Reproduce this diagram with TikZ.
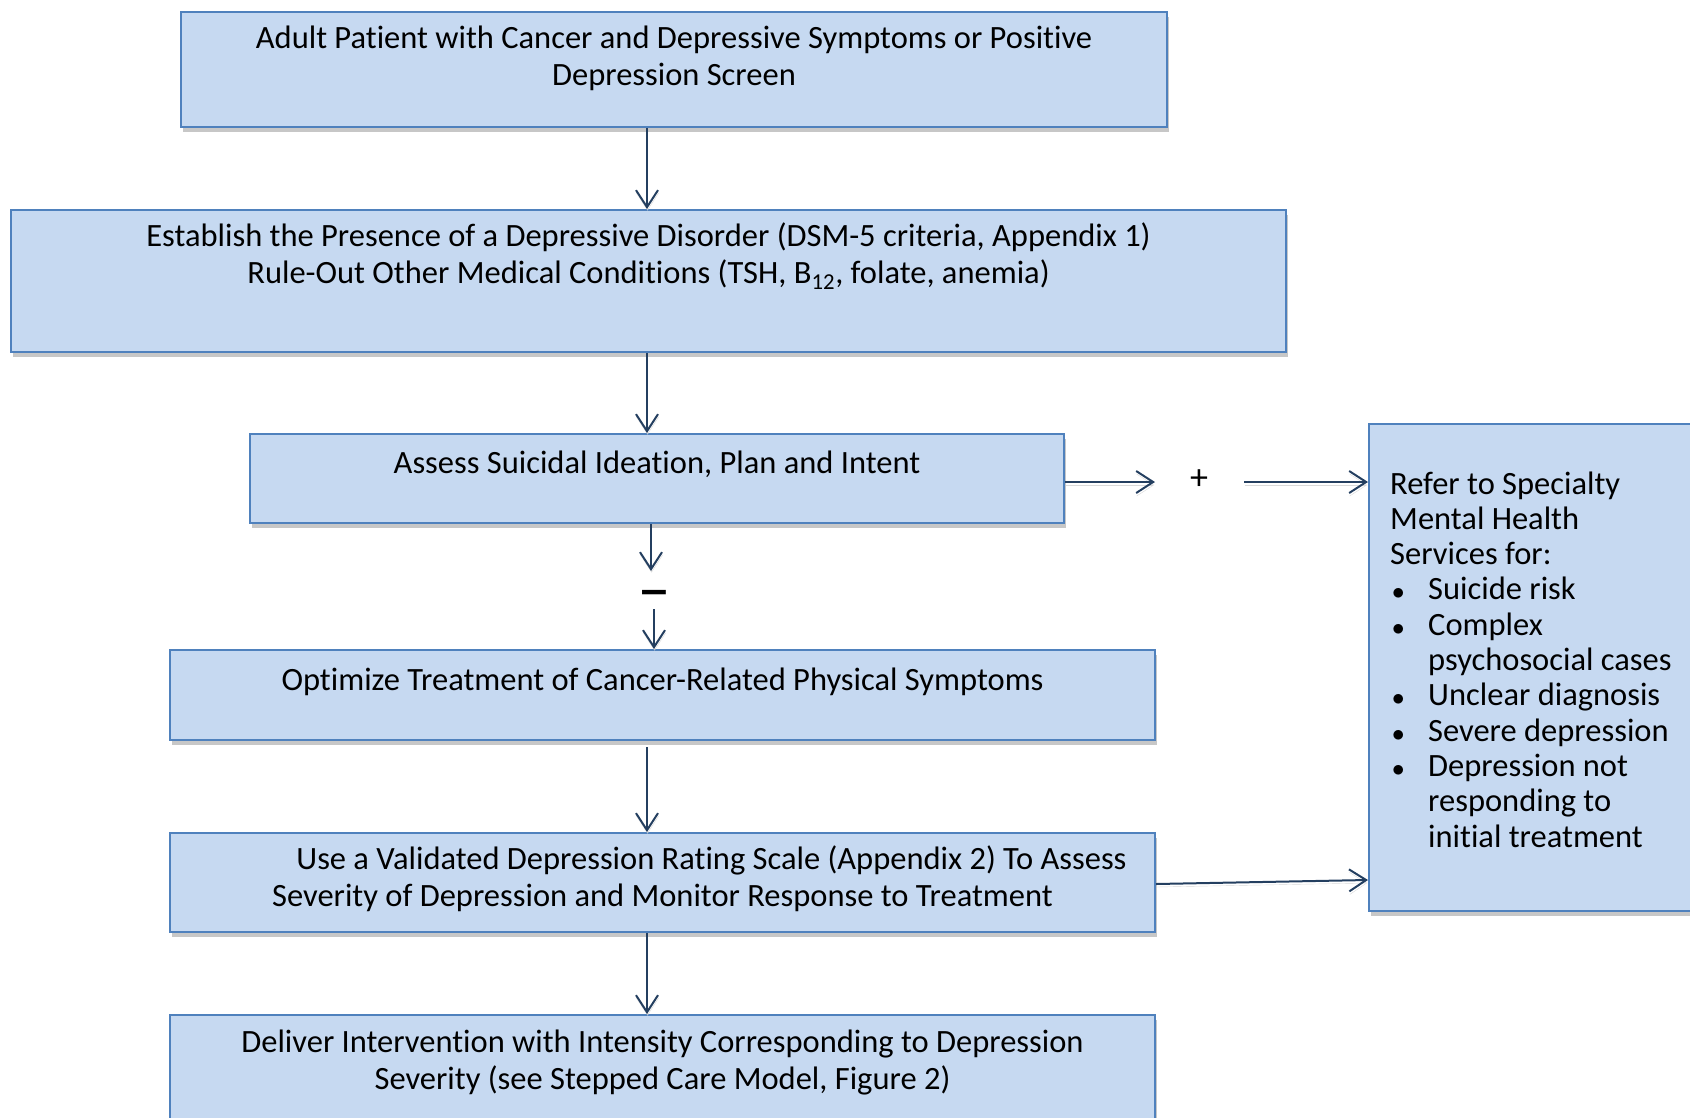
\documentclass[tikz,border=0pt]{standalone}
\usepackage{fontspec}
\setmainfont{Carlito}[Ligatures={NoCommon}]
\newfontfamily\signfont{DejaVu Sans}
\usetikzlibrary{arrows.meta,shadows,calc}
\definecolor{boxfill}{HTML}{C6D9F1}
\definecolor{boxline}{HTML}{4F81BD}
\definecolor{arrcol}{HTML}{243F60}
\newcommand\mybul{\makebox[38pt][l]{\hspace*{2pt}$\bullet$}}
\newcommand\myind{\hspace*{38pt}}
\tikzset{
 box/.style={draw=boxline, line width=2pt, fill=boxfill, rectangle, inner sep=0pt,
   drop shadow={shadow xshift=1.5pt, shadow yshift=-4.5pt, fill=black!22, opacity=1}},
 txt/.style={font=\fontsize{32.5}{37.5}\selectfont, align=center, inner sep=0pt, anchor=base},
 arr/.style={draw=arrcol, line width=2pt, -{Straight Barb[length=17pt,width=22pt]},
   preaction={draw=black!15, transform canvas={shift={(0.5pt,-3pt)}}}},
}
\begin{document}
\begin{tikzpicture}[x=1pt,y=-1pt]
\useasboundingbox (0,0) rectangle (1690,1117);
% boxes
\node[box, minimum width=986pt, minimum height=115pt] (b1) at (674,69.5) {};
\node[box, minimum width=1275pt, minimum height=142pt] (b2) at (648.5,281) {};
\node[box, minimum width=814pt, minimum height=89pt] (b3) at (657,478.5) {};
\node[box, minimum width=985pt, minimum height=90pt] (b4) at (662.5,695) {};
\node[box, minimum width=985pt, minimum height=99pt] (b5) at (662.5,882.5) {};
\node[box, minimum width=985pt, minimum height=130pt] (b6) at (662.5,1080) {};
\node[box, minimum width=340pt, minimum height=487pt] (r) at (1539,667.5) {};
% texts (anchor = baseline of last line)
\node[txt] (t1) at (674,85.5) {Adult Patient with Cancer and Depressive Symptoms or Positive\\Depression Screen};
\node[txt] (t2) at (648.5,283.5) {Establish the Presence of a Depressive Disorder (DSM-5 criteria, Appendix 1)\\Rule-Out Other Medical Conditions (TSH, B\textsubscript{12}, folate, anemia)};
\node[txt] (t3) at (657,473) {Assess Suicidal Ideation, Plan and Intent};
\node[txt] (t4) at (662.5,690) {Optimize Treatment of Cancer-Related Physical Symptoms};
\node[txt] (t5) at (662.5,906.5) {\hspace*{98pt}Use a Validated Depression Rating Scale (Appendix 2) To Assess\\Severity of Depression and Monitor Response to Treatment};
\node[txt] (t6) at (662.5,1089.5) {Deliver Intervention with Intensity Corresponding to Depression\\Severity (see Stepped Care Model, Figure 2)};
\node[font=\fontsize{32.5}{35.3}\selectfont, align=left, anchor=base west, inner sep=0pt] (tr) at (1390,847)
 {Refer to Specialty\\Mental Health\\Services for:\\\mybul Suicide risk\\\mybul Complex\\\myind psychosocial cases\\\mybul Unclear diagnosis\\\mybul Severe depression\\\mybul Depression not\\\myind responding to\\\myind initial treatment};
% signs
\node[font=\fontsize{38}{40}\signfont\bfseries, inner sep=0pt] (minus) at (654,597) {−};
\node[font=\fontsize{36}{40}\selectfont, inner sep=0pt] (plus) at (1199,480) {+};
% connectors
\coordinate (ax) at (647,0);
\coordinate (am1) at (651,0);
\coordinate (am2) at (654,0);
\coordinate (pl) at (1155,482);
\coordinate (pr) at (1244,482);
\draw[arr] (b1.south -| ax) -- (b2.north -| ax);
\draw[arr] (b2.south -| ax) -- (b3.north -| ax);
\draw[arr] (b3.south -| am1) -- (am1 |- 0,571);
\draw[arr] (am2 |- 0,609) -- (b4.north -| am2);
\draw[arr] (ax |- 0,747) -- (b5.north -| ax);
\draw[arr] (b5.south -| ax) -- (b6.north -| ax);
\draw[arr] (b3.east |- 0,482) -- (pl);
\draw[arr] (pr) -- (r.west |- pr);
\draw[arr] (b5.east |- 0,884) -- (r.west |- 0,880);
\end{tikzpicture}
\end{document}
